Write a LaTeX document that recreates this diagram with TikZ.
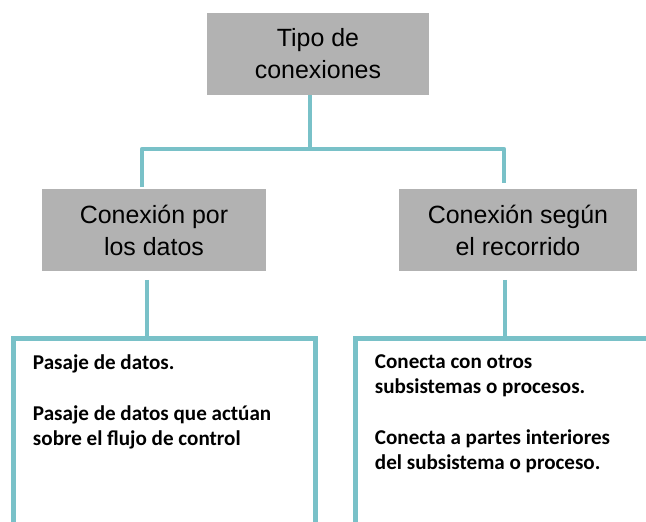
\documentclass[tikz,border=0pt]{standalone}
\usepackage{fontspec}
\setmainfont{Liberation Sans}
\newfontfamily\carlito{Carlito}
\usepackage{tikz}

\definecolor{turquesa}{RGB}{121,193,200}
\definecolor{gris}{RGB}{178,178,178}

\begin{document}
\begin{tikzpicture}[x=0.02cm,y=-0.02cm]
		\useasboundingbox (0,0) rectangle (646,521);
		\clip (0,0) rectangle (646,521);
		\tikzstyle{caja}=[rectangle,fill=gris,minimum height=1.64cm,inner sep=0pt,outer sep=0pt,align=center,font=\fontsize{14.2}{18.2}\selectfont]
		\tikzstyle{recuadro}=[rectangle,draw=turquesa,line width=2.8pt,anchor=north west,inner xsep=0.39cm,inner ysep=0.33cm,outer sep=0pt,font=\carlito\bfseries\fontsize{12}{14.2}\selectfont]
		\tikzstyle{conector}=[draw=turquesa,line width=2.6pt,line join=round]
		\node[caja,minimum width=4.44cm] (tipo) at (318,54) {Tipo de\\conexiones};
		\node[caja,minimum width=4.48cm] (datos) at (154,230) {Conexión por\\los datos};
		\node[caja,minimum width=4.76cm] (recorrido) at (518,230) {Conexión según\\el recorrido};
		\node[recuadro] (pasaje) at (13.5,338.5) {\parbox[t][4cm][t]{5.26cm}{Pasaje de datos.\\[14.8pt]
			Pasaje de datos que actúan\\sobre el flujo de control}};
		\node[recuadro] (conecta) at (355.5,338.5) {\parbox[t][4cm][t]{5.78cm}{Conecta con otros\\subsistemas o procesos.\\[14.8pt]
			Conecta a partes interiores\\del subsistema o proceso.}};
		\coordinate (ramal) at (310,149);
		\draw[conector] (tipo.south -| ramal) -- (ramal);
		\draw[conector,shorten <=0.04cm,shorten >=0.12cm] ([xshift=-0.24cm]datos.north) |- (ramal) -| ([xshift=-0.28cm]recorrido.north);
		\draw[conector,shorten <=0.18cm] ([xshift=-0.14cm]datos.south) coordinate (bajo1) -- (bajo1 |- pasaje.north);
		\draw[conector,shorten <=0.18cm] ([xshift=-0.26cm]recorrido.south) coordinate (bajo2) -- (bajo2 |- conecta.north);
	\end{tikzpicture}
\end{document}
